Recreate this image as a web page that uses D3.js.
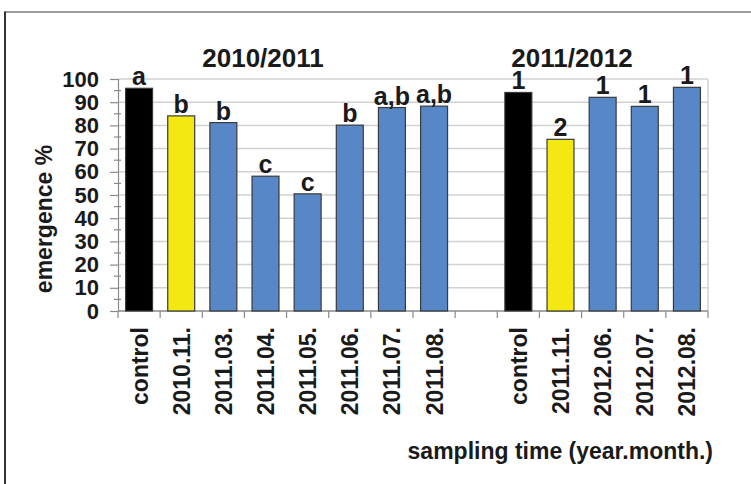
<!DOCTYPE html>
<html>
<head>
<meta charset="utf-8">
<script src="https://cdn.jsdelivr.net/npm/d3@7"></script>
<style>
  html, body { margin: 0; padding: 0; background: #fff; }
  svg { display: block; }
  text { font-family: "Liberation Sans", Arial, sans-serif; font-weight: bold; fill: #1a1a1a; }
</style>
</head>
<body>
<svg id="chart" width="751" height="484"></svg>
<script>
// ---- data ----
const season1Title = "2010/2011";
const season1Labels = ["control", "2010.11.", "2011.03.", "2011.04.", "2011.05.", "2011.06.", "2011.07.", "2011.08."];
const season1Values = [96.0, 84.1, 81.2, 58.1, 50.5, 80.1, 87.7, 88.3];
const season1Letters = ["a", "b", "b", "c", "c", "b", "a,b", "a,b"];

const season2Title = "2011/2012";
const season2Labels = ["control", "2011.11.", "2012.06.", "2012.07.", "2012.08."];
const season2Values = [94.2, 74.0, 92.1, 88.2, 96.4];
const season2Letters = ["1", "2", "1", "1", "1"];

const yTicks = [0, 10, 20, 30, 40, 50, 60, 70, 80, 90, 100];
const yTitle = "emergence %";
const xTitle = "sampling time (year.month.)";

// ---- build rows (one empty slot separates the seasons) ----
function kind(i) { return i === 0 ? "control" : (i === 1 ? "first" : "later"); }
const rows = [];
season1Labels.forEach((l, i) => rows.push({ key: "s1-" + i, label: l, value: season1Values[i], letter: season1Letters[i], kind: kind(i), season: 1 }));
rows.push({ key: "gap", label: "", value: null, letter: "", kind: "gap", season: 0 });
season2Labels.forEach((l, i) => rows.push({ key: "s2-" + i, label: l, value: season2Values[i], letter: season2Letters[i], kind: kind(i), season: 2 }));

const colors = { control: "#000000", first: "#f4e812", later: "#5887c8" };

// ---- layout ----
const svg = d3.select("#chart");
const plot = { left: 118, right: 708, top: 79, bottom: 311 };

const x = d3.scaleBand()
  .domain(rows.map(d => d.key))
  .range([plot.left, plot.right])
  .paddingInner(0.36)
  .paddingOuter(0.18);

const y = d3.scaleLinear().domain([0, 100]).range([plot.bottom, plot.top]);

// outer frame
svg.append("line").attr("x1", 5).attr("x2", 751).attr("y1", 12).attr("y2", 12)
  .attr("stroke", "#7a7a7a").attr("stroke-width", 1.5);
svg.append("line").attr("x1", 5).attr("x2", 5).attr("y1", 11.5).attr("y2", 484)
  .attr("stroke", "#333").attr("stroke-width", 2);

// gridlines
svg.append("g").selectAll("line").data(yTicks.filter(t => t > 0)).join("line")
  .attr("x1", plot.left).attr("x2", plot.right)
  .attr("y1", d => y(d)).attr("y2", d => y(d))
  .attr("stroke", "#d2d2d2").attr("stroke-width", 1.5);
// right border of plot area
svg.append("line").attr("x1", plot.right).attr("x2", plot.right)
  .attr("y1", y(100)).attr("y2", y(0)).attr("stroke", "#d2d2d2").attr("stroke-width", 1.5);

// y axis
const yAxis = d3.axisLeft(y).tickValues(yTicks).tickSize(8).tickPadding(11).tickFormat(d3.format("d"));
const gy = svg.append("g").attr("transform", `translate(${plot.left},0)`).call(yAxis);
gy.select(".domain").attr("stroke", "#8a8a8a").attr("stroke-width", 1.2);
gy.selectAll(".tick line").attr("stroke", "#8a8a8a").attr("stroke-width", 1.2);
gy.selectAll(".tick text").attr("font-size", 22).attr("fill", "#1a1a1a")
  .attr("font-family", "Liberation Sans, Arial, sans-serif").attr("font-weight", "bold");
// minor ticks
const minor = d3.range(5, 100, 10);
svg.append("g").selectAll("line").data(minor).join("line")
  .attr("x1", plot.left - 4).attr("x2", plot.left + 3)
  .attr("y1", d => y(d)).attr("y2", d => y(d))
  .attr("stroke", "#8a8a8a").attr("stroke-width", 1.2);

// x axis line and boundary ticks
const step = x.step();
const gap = step - x.bandwidth();
const bounds = rows.map(d => x(d.key) - gap / 2).concat([x(rows[rows.length - 1].key) + x.bandwidth() + gap / 2]);
svg.append("line").attr("x1", plot.left).attr("x2", plot.right)
  .attr("y1", y(0)).attr("y2", y(0)).attr("stroke", "#8a8a8a").attr("stroke-width", 1.5);
svg.append("g").selectAll("line").data(bounds).join("line")
  .attr("x1", d => d).attr("x2", d => d)
  .attr("y1", y(0)).attr("y2", y(0) + 7)
  .attr("stroke", "#8a8a8a").attr("stroke-width", 1.2);

// bars
const bars = rows.filter(d => d.value !== null);
svg.append("g").selectAll("rect").data(bars).join("rect")
  .attr("x", d => x(d.key))
  .attr("width", x.bandwidth())
  .attr("y", d => y(d.value))
  .attr("height", d => y(0) - y(d.value))
  .attr("fill", d => colors[d.kind])
  .attr("stroke", "#3a3a3a").attr("stroke-width", 1.2);

// letters above bars
svg.append("g").selectAll("text").data(bars).join("text")
  .attr("x", d => x(d.key) + x.bandwidth() / 2)
  .attr("y", d => y(d.value) - 3)
  .attr("text-anchor", "middle")
  .attr("font-size", 25)
  .text(d => d.letter);

// rotated category labels
svg.append("g").selectAll("text").data(rows.filter(d => d.label)).join("text")
  .attr("transform", d => `translate(${x(d.key) + x.bandwidth() / 2 + 8.5},327) rotate(-90)`)
  .attr("text-anchor", "end")
  .attr("font-size", 23)
  .text(d => d.label);

// season titles
svg.append("text").attr("x", 263).attr("y", 67).attr("text-anchor", "middle")
  .attr("font-size", 26).text(season1Title);
svg.append("text").attr("x", 572).attr("y", 67).attr("text-anchor", "middle")
  .attr("font-size", 26).text(season2Title);

// axis titles
svg.append("text").attr("transform", `translate(52,219) rotate(-90)`)
  .attr("text-anchor", "middle").attr("font-size", 23).text(yTitle);
svg.append("text").attr("x", 713).attr("y", 459).attr("text-anchor", "end")
  .attr("font-size", 23).text(xTitle);
</script>
</body>
</html>
